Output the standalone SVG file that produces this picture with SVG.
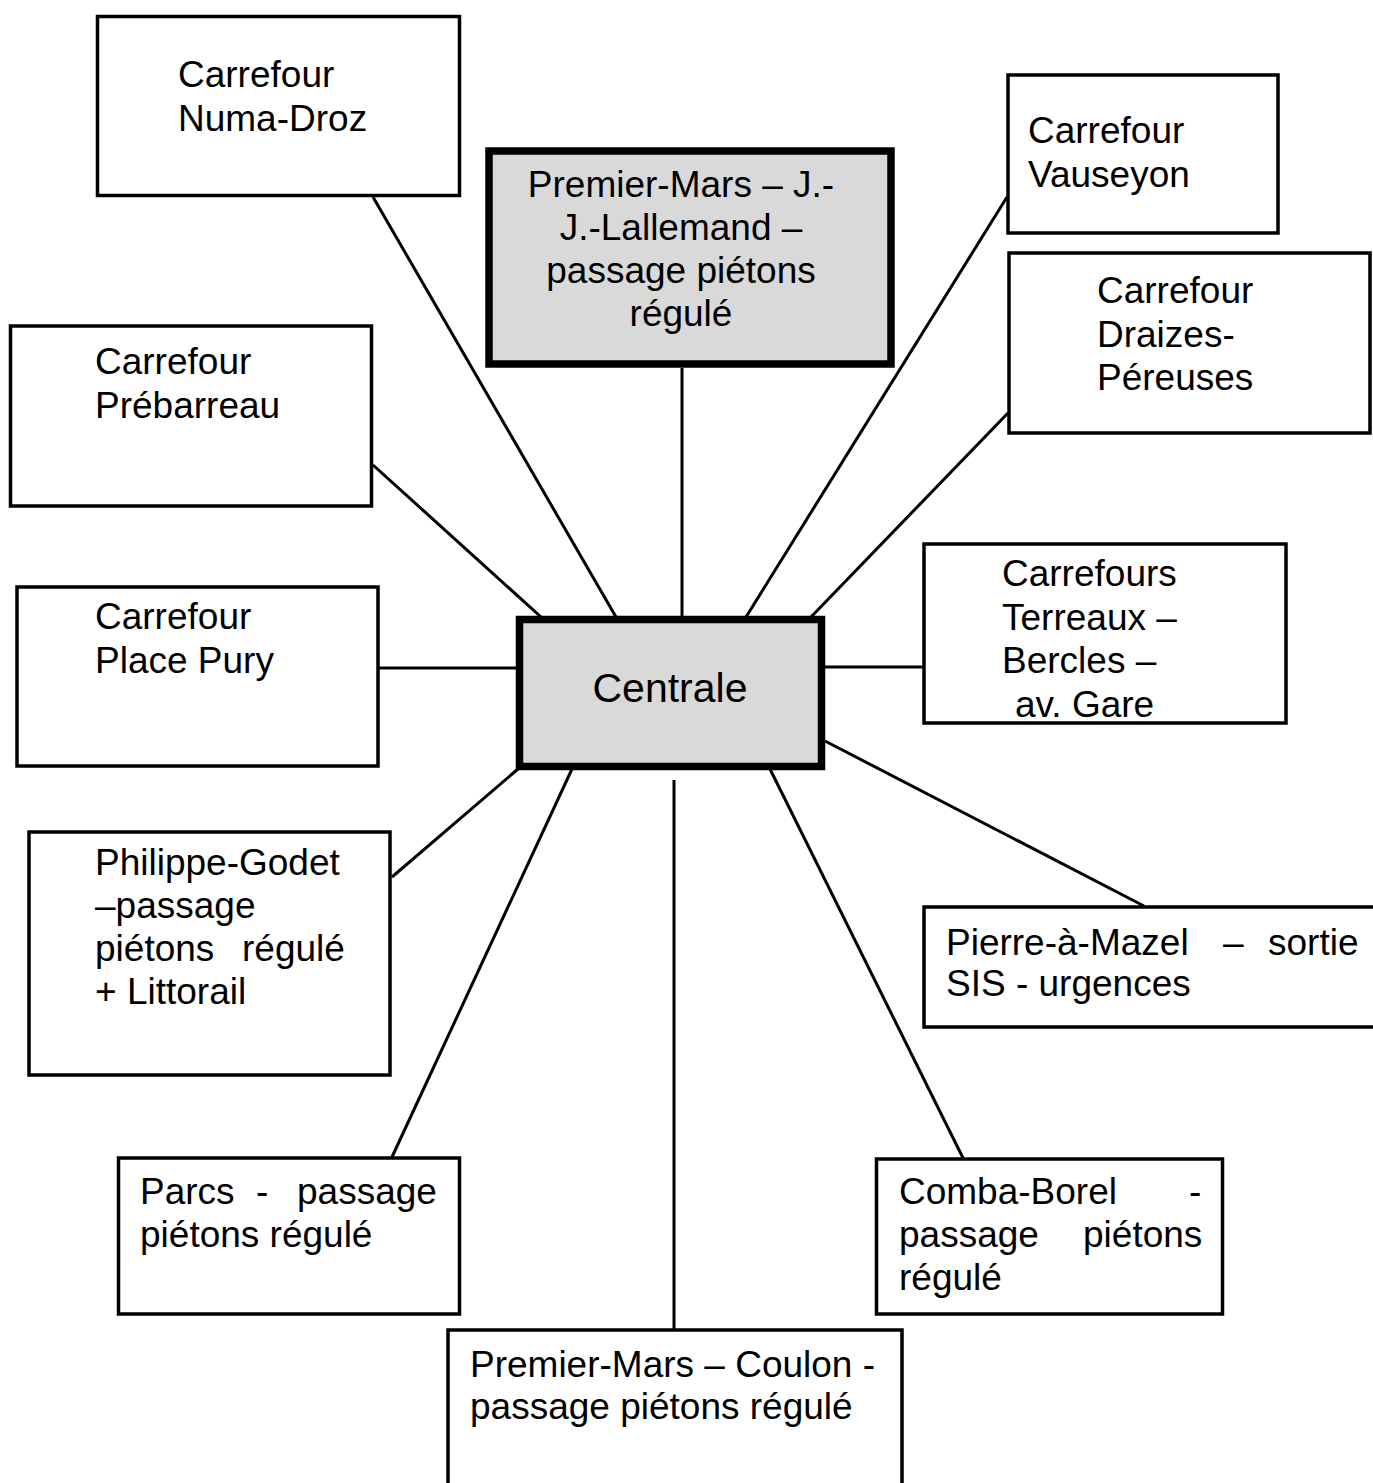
<svg xmlns="http://www.w3.org/2000/svg" width="1373" height="1483" viewBox="0 0 1373 1483">
<style>
.box{fill:#ffffff;stroke:#000000;stroke-width:3.5}
.hub{fill:#d9d9d9;stroke:#000000;stroke-width:7.5}
.t{font-family:"Liberation Sans",Arial,sans-serif;font-size:37px;fill:#000000}
.c{text-anchor:middle}
.e{text-anchor:end}
.big{font-size:41px}
.ln{stroke:#000000;stroke-width:3;fill:none}
</style>
<rect width="1373" height="1483" fill="#ffffff"/>
<g id="connectors">
<line class="ln" x1="373" y1="197" x2="616" y2="617"/>
<line class="ln" x1="682" y1="368" x2="682" y2="616"/>
<line class="ln" x1="1007" y1="197" x2="746" y2="617"/>
<line class="ln" x1="1008" y1="413" x2="811" y2="617"/>
<line class="ln" x1="373" y1="465" x2="541" y2="617"/>
<line class="ln" x1="379" y1="668" x2="516" y2="668"/>
<line class="ln" x1="825" y1="667" x2="923" y2="667"/>
<line class="ln" x1="392" y1="877" x2="518" y2="769"/>
<line class="ln" x1="825" y1="741" x2="1144" y2="906"/>
<line class="ln" x1="392" y1="1157" x2="572" y2="769"/>
<line class="ln" x1="963" y1="1158" x2="770" y2="769"/>
<line class="ln" x1="674" y1="780" x2="674" y2="1329"/>
</g>
<g id="numa-droz">
<rect class="box" x="97.5" y="16.5" width="362" height="179"/>
<text class="t" x="178" y="87">Carrefour</text>
<text class="t" x="178" y="131">Numa-Droz</text>
</g>
<g id="premier-mars-lallemand">
<rect class="hub" x="489" y="151" width="402" height="213"/>
<text class="t c" x="681" y="197">Premier-Mars – J.-</text>
<text class="t c" x="681" y="240">J.-Lallemand –</text>
<text class="t c" x="681" y="283">passage piétons</text>
<text class="t c" x="681" y="326">régulé</text>
</g>
<g id="vauseyon">
<rect class="box" x="1008" y="75" width="270" height="158"/>
<text class="t" x="1028" y="143">Carrefour</text>
<text class="t" x="1028" y="187">Vauseyon</text>
</g>
<g id="draizes">
<rect class="box" x="1009" y="253" width="361" height="180"/>
<text class="t" x="1097" y="303">Carrefour</text>
<text class="t" x="1097" y="347">Draizes-</text>
<text class="t" x="1097" y="390">Péreuses</text>
</g>
<g id="prebarreau">
<rect class="box" x="10.5" y="326" width="361" height="180"/>
<text class="t" x="95" y="374">Carrefour</text>
<text class="t" x="95" y="418">Prébarreau</text>
</g>
<g id="place-pury">
<rect class="box" x="17" y="587" width="361" height="179"/>
<text class="t" x="95" y="629">Carrefour</text>
<text class="t" x="95" y="673">Place Pury</text>
</g>
<g id="centrale">
<rect class="hub" x="519.5" y="619.5" width="302" height="147"/>
<text class="t c big" x="670" y="702">Centrale</text>
</g>
<g id="terreaux">
<rect class="box" x="924" y="544" width="362" height="179"/>
<text class="t" x="1002" y="586">Carrefours</text>
<text class="t" x="1002" y="630">Terreaux –</text>
<text class="t" x="1002" y="673">Bercles –</text>
<text class="t" x="1002" y="717"> <tspan x="1015">av. Gare</tspan></text>
</g>
<g id="philippe-godet">
<rect class="box" x="29" y="832" width="361" height="243"/>
<text class="t" x="95" y="875">Philippe-Godet</text>
<text class="t" x="95" y="918">–passage</text>
<text class="t" y="961"><tspan x="95">piétons</tspan><tspan x="242">régulé</tspan></text>
<text class="t" x="95" y="1004">+ Littorail</text>
</g>
<g id="pierre-a-mazel">
<rect class="box" x="924" y="907" width="460" height="120"/>
<text class="t" y="955"><tspan x="946">Pierre-à-Mazel</tspan><tspan x="1223">–</tspan><tspan x="1268">sortie</tspan></text>
<text class="t" x="946" y="996">SIS - urgences</text>
</g>
<g id="parcs">
<rect class="box" x="118.5" y="1158" width="341" height="156"/>
<text class="t" y="1204"><tspan x="140">Parcs</tspan><tspan x="256">-</tspan><tspan x="297">passage</tspan></text>
<text class="t" x="140" y="1247">piétons régulé</text>
</g>
<g id="comba-borel">
<rect class="box" x="876.5" y="1159" width="346" height="155"/>
<text class="t" y="1204"><tspan x="899">Comba-Borel</tspan><tspan x="1189">-</tspan></text>
<text class="t" y="1247"><tspan x="899">passage</tspan><tspan x="1083">piétons</tspan></text>
<text class="t" x="899" y="1290">régulé</text>
</g>
<g id="premier-mars-coulon">
<rect class="box" x="448" y="1330" width="454" height="170"/>
<text class="t" x="470" y="1377">Premier-Mars – Coulon -</text>
<text class="t" x="470" y="1419">passage piétons régulé</text>
</g>
</svg>
